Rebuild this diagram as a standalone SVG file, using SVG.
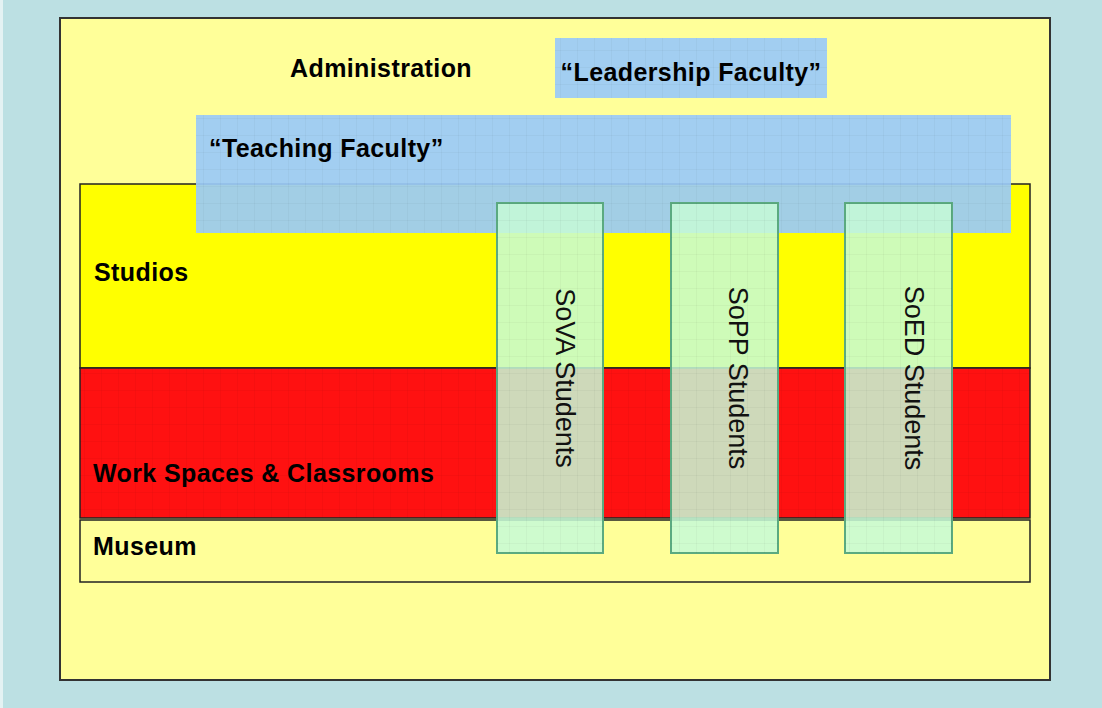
<svg xmlns="http://www.w3.org/2000/svg" width="1102" height="708" viewBox="0 0 1102 708">
<style>
.lbl{font-family:"Liberation Sans",Arial,sans-serif;font-weight:bold;font-size:25px;fill:#000;letter-spacing:0.4px}
.vt{font-family:"Liberation Sans",Arial,sans-serif;font-size:27px;fill:#111;text-anchor:middle}
.zone{stroke:#222;stroke-width:1.5}
.fac{fill:#9ACAF9;fill-opacity:0.92}
.stu{fill:#C6FAD6;fill-opacity:0.86;stroke:#5BAA80;stroke-width:2}
</style>
<defs>
<pattern id="grid" width="17" height="17" patternUnits="userSpaceOnUse">
<path d="M17 0V17M0 17H17" fill="none" stroke="#000" stroke-opacity="0.06" stroke-width="1"/>
</pattern>
</defs>
<rect x="0" y="0" width="1102" height="708" fill="#BCE0E3"/>
<rect x="0" y="0" width="3" height="708" fill="#E4F2F3"/>
<g id="outer">
<rect x="60" y="18" width="990" height="662" fill="#FFFF99" stroke="#333" stroke-width="2"/>
<text class="lbl" x="290" y="77">Administration</text>
</g>
<g id="studios">
<rect class="zone" x="80" y="184" width="950" height="184" fill="#FFFF00"/>
<text class="lbl" x="94" y="281">Studios</text>
</g>
<g id="workspaces">
<rect class="zone" x="80" y="368" width="950" height="150" fill="#FF1111"/>
<rect x="80" y="368" width="950" height="150" fill="url(#grid)"/>
<text class="lbl" x="93" y="482">Work Spaces &amp; Classrooms</text>
</g>
<g id="museum">
<rect class="zone" x="80" y="520" width="950" height="62" fill="#FFFF99"/>
<text class="lbl" x="93" y="555">Museum</text>
</g>
<g id="leadership">
<rect class="fac" x="555" y="38" width="272" height="60"/>
<rect x="555" y="38" width="272" height="60" fill="url(#grid)"/>
<text class="lbl" x="691" y="81" text-anchor="middle">“Leadership Faculty”</text>
</g>
<g id="teaching">
<rect class="fac" x="196" y="115" width="815" height="118"/>
<rect x="196" y="115" width="815" height="118" fill="url(#grid)"/>
<text class="lbl" x="209" y="157">“Teaching Faculty”</text>
</g>
<g id="sova">
<rect class="stu" x="497" y="203" width="106" height="350"/>
<rect x="497" y="203" width="106" height="350" fill="url(#grid)"/>
<text class="vt" transform="translate(556,378) rotate(90)">SoVA Students</text>
</g>
<g id="sopp">
<rect class="stu" x="671" y="203" width="107" height="350"/>
<rect x="671" y="203" width="107" height="350" fill="url(#grid)"/>
<text class="vt" transform="translate(729,378) rotate(90)">SoPP Students</text>
</g>
<g id="soed">
<rect class="stu" x="845" y="203" width="107" height="350"/>
<rect x="845" y="203" width="107" height="350" fill="url(#grid)"/>
<text class="vt" transform="translate(905,378) rotate(90)">SoED Students</text>
</g>
<g id="connectors"></g>
</svg>
